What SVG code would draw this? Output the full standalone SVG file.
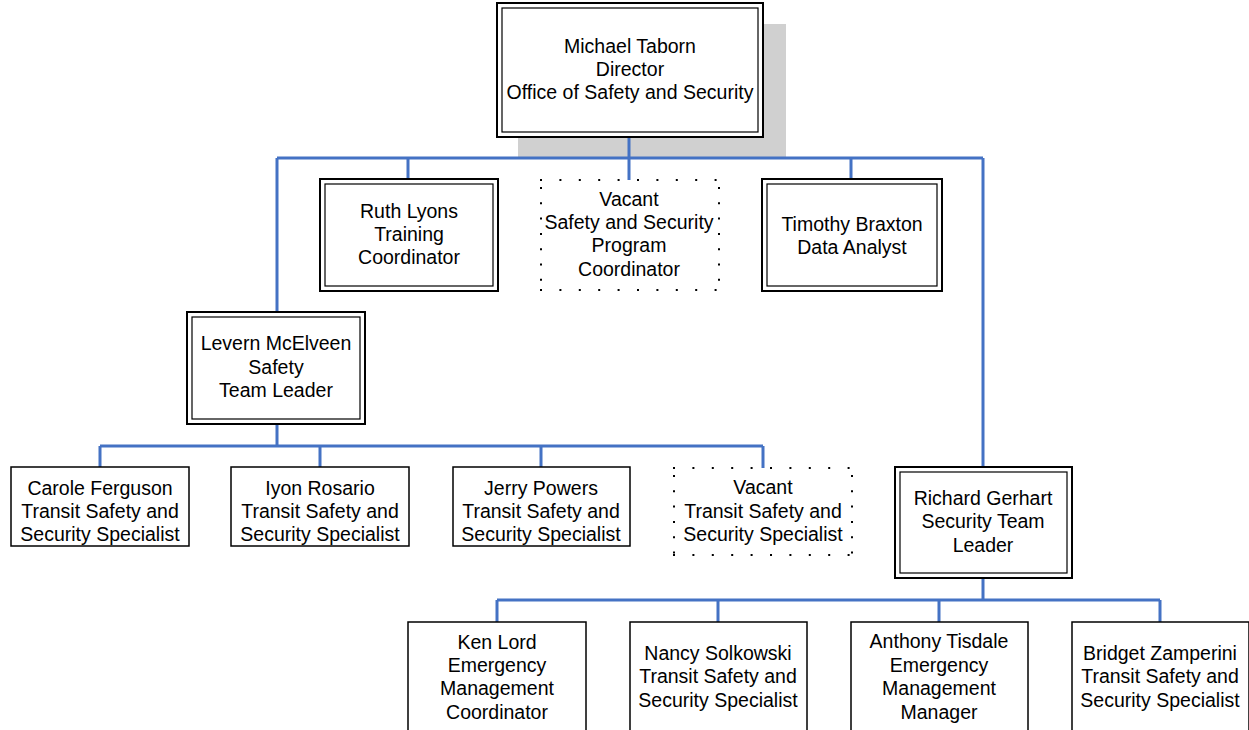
<svg xmlns="http://www.w3.org/2000/svg" width="1249" height="730" viewBox="0 0 1249 730">
<style>
.bg{fill:#fff}
.o{fill:#fff;stroke:#000;stroke-width:2}
.i{fill:none;stroke:#000;stroke-width:1.2}
.s{fill:#fff;stroke:#000;stroke-width:1.5}
.dh{fill:none;stroke:#000;stroke-width:2;stroke-dasharray:2 17.4}
.dv{fill:none;stroke:#000;stroke-width:2;stroke-dasharray:2 13.3}
.c{fill:none;stroke:#4472C4;stroke-width:3}
text{font-family:"Liberation Sans",Arial,sans-serif;font-size:19.5px;fill:#000;text-anchor:middle}
</style>
<rect class="bg" x="0" y="0" width="1249" height="730"/>
<rect x="518" y="24" width="268" height="133" fill="#d0d0d0"/>
<g id="connectors">
<path class="c" d="M629,137V158M277,158H983M408,158V179M629,158V180M851,158V179M277,158V312M983,158V467"/>
<path class="c" d="M277,424V446M100,446H763M100,446V467M320,446V467M541,446V467M763,446V468"/>
<path class="c" d="M983,578V600M497,600H1160M497,600V622M718,600V622M939,600V622M1160,600V622"/>
</g>
<g id="director">
<rect class="o" x="497" y="3" width="266" height="134"/>
<rect class="i" x="502" y="8" width="256" height="124"/>
<text x="630" y="53">Michael Taborn</text>
<text x="630" y="76">Director</text>
<text x="630" y="99">Office of Safety and Security</text>
</g>
<g id="ruth">
<rect class="o" x="320" y="179" width="178" height="112"/>
<rect class="i" x="325" y="184" width="168" height="102"/>
<text x="409" y="218">Ruth Lyons</text>
<text x="409" y="241">Training</text>
<text x="409" y="264">Coordinator</text>
</g>
<g id="vacant1">
<line class="dh" x1="540" y1="180" x2="720" y2="180"/>
<line class="dh" x1="540" y1="290" x2="720" y2="290"/>
<line class="dv" x1="541" y1="187" x2="541" y2="290"/>
<line class="dv" x1="719" y1="187" x2="719" y2="290"/>
<text x="629" y="206">Vacant</text>
<text x="629" y="229">Safety and Security</text>
<text x="629" y="252">Program</text>
<text x="629" y="276">Coordinator</text>
</g>
<g id="timothy">
<rect class="o" x="762" y="179" width="180" height="112"/>
<rect class="i" x="767" y="184" width="170" height="102"/>
<text x="852" y="231">Timothy Braxton</text>
<text x="852" y="254">Data Analyst</text>
</g>
<g id="levern">
<rect class="o" x="187" y="312" width="178" height="112"/>
<rect class="i" x="192" y="317" width="168" height="102"/>
<text x="276" y="350">Levern McElveen</text>
<text x="276" y="374">Safety</text>
<text x="276" y="397">Team Leader</text>
</g>
<g id="carole">
<rect class="s" x="11" y="467" width="178" height="79"/>
<text x="100" y="495">Carole Ferguson</text>
<text x="100" y="518">Transit Safety and</text>
<text x="100" y="541">Security Specialist</text>
</g>
<g id="iyon">
<rect class="s" x="231" y="467" width="178" height="79"/>
<text x="320" y="495">Iyon Rosario</text>
<text x="320" y="518">Transit Safety and</text>
<text x="320" y="541">Security Specialist</text>
</g>
<g id="jerry">
<rect class="s" x="453" y="467" width="177" height="79"/>
<text x="541" y="495">Jerry Powers</text>
<text x="541" y="518">Transit Safety and</text>
<text x="541" y="541">Security Specialist</text>
</g>
<g id="vacant2">
<line class="dh" x1="673" y1="468" x2="853" y2="468"/>
<line class="dh" x1="673" y1="555" x2="853" y2="555"/>
<line class="dv" x1="674" y1="475" x2="674" y2="555"/>
<line class="dv" x1="852" y1="475" x2="852" y2="555"/>
<text x="763" y="494">Vacant</text>
<text x="763" y="518">Transit Safety and</text>
<text x="763" y="541">Security Specialist</text>
</g>
<g id="richard">
<rect class="o" x="895" y="467" width="177" height="111"/>
<rect class="i" x="900" y="472" width="167" height="101"/>
<text x="983" y="505">Richard Gerhart</text>
<text x="983" y="528">Security Team</text>
<text x="983" y="552">Leader</text>
</g>
<g id="ken">
<rect class="s" x="408" y="622" width="178" height="115"/>
<text x="497" y="649">Ken Lord</text>
<text x="497" y="672">Emergency</text>
<text x="497" y="695">Management</text>
<text x="497" y="719">Coordinator</text>
</g>
<g id="nancy">
<rect class="s" x="630" y="622" width="177" height="115"/>
<text x="718" y="660">Nancy Solkowski</text>
<text x="718" y="683">Transit Safety and</text>
<text x="718" y="707">Security Specialist</text>
</g>
<g id="anthony">
<rect class="s" x="851" y="622" width="177" height="115"/>
<text x="939" y="648">Anthony Tisdale</text>
<text x="939" y="672">Emergency</text>
<text x="939" y="695">Management</text>
<text x="939" y="719">Manager</text>
</g>
<g id="bridget">
<rect class="s" x="1072" y="622" width="177" height="115"/>
<text x="1160" y="660">Bridget Zamperini</text>
<text x="1160" y="683">Transit Safety and</text>
<text x="1160" y="707">Security Specialist</text>
</g>
</svg>
